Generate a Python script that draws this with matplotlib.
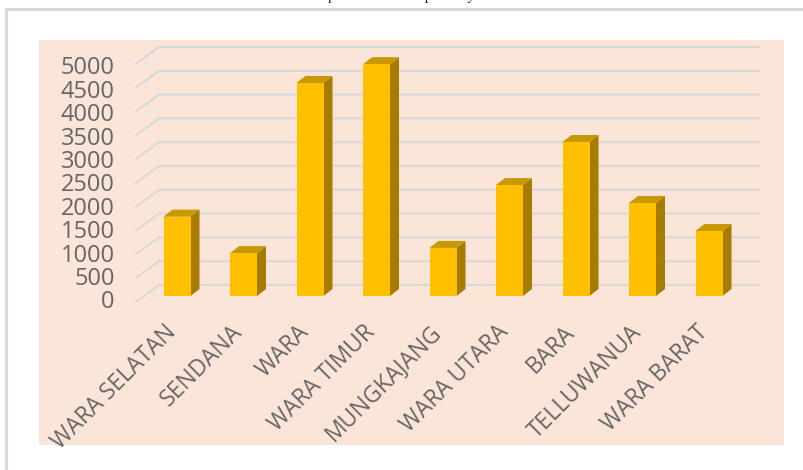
import matplotlib
matplotlib.use("Agg")
import matplotlib.pyplot as plt
from matplotlib.patches import Polygon, Rectangle

categories = ["WARA SELATAN", "SENDANA", "WARA", "WARA TIMUR", "MUNGKAJANG",
              "WARA UTARA", "BARA", "TELLUWANUA", "WARA BARAT"]
values = [1666, 900, 4475, 4870, 1010, 2330, 3235, 1955, 1365]
y_ticks = [0, 500, 1000, 1500, 2000, 2500, 3000, 3500, 4000, 4500, 5000]

W, H = 804, 470
BG = (39, 40, 784, 445)
PX_X = 66.5
PX_Y = 23.8 / 500

fig = plt.figure(figsize=(W / 100, H / 100), dpi=100, facecolor="white")
plt.rcParams["font.family"] = ["Open Sans", "DejaVu Sans"]

ax = fig.add_axes([BG[0] / W, 1 - BG[3] / H, (BG[2] - BG[0]) / W, (BG[3] - BG[1]) / H])
ax.set_facecolor("#FAE5D8")
ax.set_xlim((BG[0] - 177) / PX_X, (BG[2] - 177) / PX_X)
ax.set_ylim((296 - BG[3]) / PX_Y, (296 - BG[1]) / PX_Y)
for s in ax.spines.values():
    s.set_visible(False)
ax.set_xticks([])
ax.set_yticks([])

gx0 = (136 - 177) / PX_X
gx1 = (159 - 177) / PX_X
gx2 = (759 - 177) / PX_X
lx = (114.5 - 177) / PX_X
front_dy = -5.7 / PX_Y
back_dy = 11 / PX_Y
for v in y_ticks:
    ax.plot([gx0, gx1, gx2], [v + front_dy, v + back_dy, v + back_dy],
            color="#DAD9D8", lw=1.6, solid_joinstyle="miter", zorder=1)
    ax.text(lx, v * 0.983 - 3.3 / PX_Y, str(v), ha="right", va="center_baseline",
            fontsize=17, color="#666666", zorder=3)

half = 13.5 / PX_X
dx = 9 / PX_X
dy = 7 / PX_Y
for i, v in enumerate(values):
    l, r = i - half, i + half
    ax.add_patch(Polygon([(r, 0), (r + dx, dy), (r + dx, v + dy), (r, v)],
                         fc="#A67C00", ec="none", zorder=4))
    ax.add_patch(Polygon([(l, v), (l + dx, v + dy), (r + dx, v + dy), (r, v)],
                         fc="#C99700", ec="none", zorder=4))
    ax.add_patch(Rectangle((l, 0), r - l, v, fc="#FFC000", ec="none", zorder=5))
    ax.annotate(categories[i], xy=(i, 0), xytext=(-9.5, -17.5), textcoords="offset points",
                rotation=45, ha="right", va="top", rotation_mode="anchor",
                fontsize=16.4, color="#666666", annotation_clip=False, zorder=6)

fig.add_artist(Rectangle((6.5 / W, -0.02), 1.02, 1.02 - 9.5 / H, transform=fig.transFigure,
                         fc="none", ec="#DADADA", lw=2.2))
fig.text(328 / W, 1.0, "p" + " " * 23 + "p" + " " * 9 + "y", ha="left", va="baseline",
         fontsize=11, family="Liberation Serif", color="#222222")
fig.savefig("out.png", dpi=100)
